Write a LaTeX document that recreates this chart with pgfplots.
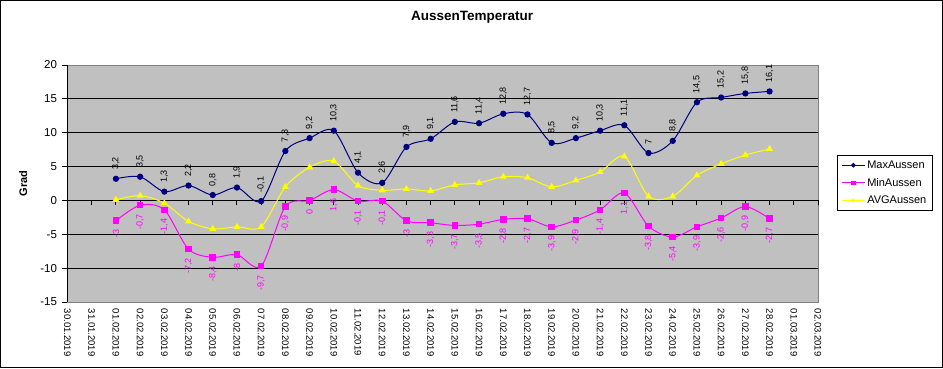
\documentclass[border=0pt]{standalone}
\usepackage{pgfplots}
\pgfplotsset{compat=1.18}
\usepackage{pgfplotstable}
\usepackage{fontspec}
\setmainfont{Liberation Sans}
\definecolor{maxc}{RGB}{0,0,128}
\definecolor{minc}{RGB}{255,0,255}
\definecolor{avgc}{RGB}{255,255,0}
\definecolor{bgc}{RGB}{192,192,192}
\definecolor{bordc}{RGB}{128,128,128}

\pgfplotstableread{
x y lab
2 3.2 3,2
3 3.5 3,5
4 1.3 1,3
5 2.2 2,2
6 0.8 0,8
7 1.9 1,9
8 -0.1 -0,1
9 7.3 7,3
10 9.2 9,2
11 10.3 10,3
12 4.1 4,1
13 2.6 2,6
14 7.9 7,9
15 9.1 9,1
16 11.6 11,6
17 11.4 11,4
18 12.8 12,8
19 12.7 12,7
20 8.5 8,5
21 9.2 9,2
22 10.3 10,3
23 11.1 11,1
24 7 7
25 8.8 8,8
26 14.5 14,5
27 15.2 15,2
28 15.8 15,8
29 16.1 16,1
}\maxtab

\pgfplotstableread{
x y lab
2 -3 -3
3 -0.7 -0,7
4 -1.4 -1,4
5 -7.2 -7,2
6 -8.4 -8,4
7 -8 -8
8 -9.7 -9,7
9 -0.9 -0,9
10 0 0
11 1.6 1,6
12 -0.1 -0,1
13 -0.1 -0,1
14 -3 -3
15 -3.3 -3,3
16 -3.7 -3,7
17 -3.5 -3,5
18 -2.8 -2,8
19 -2.7 -2,7
20 -3.9 -3,9
21 -2.9 -2,9
22 -1.4 -1,4
23 1.1 1,1
24 -3.8 -3,8
25 -5.4 -5,4
26 -3.9 -3,9
27 -2.6 -2,6
28 -0.9 -0,9
29 -2.7 -2,7
}\mintab

\pgfplotstableread{
x y
2 0.1
3 0.7
4 -0.4
5 -3.1
6 -4.2
7 -3.9
8 -3.9
9 2.0
10 4.9
11 5.8
12 2.2
13 1.5
14 1.7
15 1.4
16 2.3
17 2.6
18 3.5
19 3.35
20 2.0
21 2.95
22 4.2
23 6.5
24 0.6
25 0.6
26 3.7
27 5.4
28 6.7
29 7.6
}\avgtab

\begin{document}
\begin{tikzpicture}
\useasboundingbox (0,0) rectangle (943pt,368pt);
\draw[line width=1pt] (0.5pt,0.5pt) rectangle (942.5pt,367.5pt);
\begin{axis}[
  at={(67.5pt,66pt)}, anchor=south west,
  scale only axis, width=750.5pt, height=237pt,
  xmin=0, xmax=31, ymin=-15, ymax=20,
  axis x line=middle, axis y line=left,
  axis line style={-, line width=1pt, black},
  hide obscured x ticks=false, hide obscured y ticks=false,
  xtick={0,...,31},
  xticklabels={30.01.2019,31.01.2019,01.02.2019,02.02.2019,03.02.2019,04.02.2019,05.02.2019,06.02.2019,07.02.2019,08.02.2019,09.02.2019,10.02.2019,11.02.2019,12.02.2019,13.02.2019,14.02.2019,15.02.2019,16.02.2019,17.02.2019,18.02.2019,19.02.2019,20.02.2019,21.02.2019,22.02.2019,23.02.2019,24.02.2019,25.02.2019,26.02.2019,27.02.2019,28.02.2019,01.03.2019,02.03.2019},
  xticklabel shift=100pt,
  xticklabel style={rotate=-90, anchor=west, font=\fontsize{9.5}{11}\selectfont},
  ytick={-15,-10,...,20},
  yticklabels={-15,-10,-5,0,5,10,15,20},
  yticklabel style={font=\fontsize{11.5}{13}\selectfont, xshift=-2pt},
  tick align=outside,
  major tick length=5pt,
  tick style={black, line width=1pt},
  extra y ticks={-10,-5,5,10,15},
  extra y tick labels={},
  extra y tick style={grid=major, major grid style={black, line width=1pt}, tick style={draw=none}},
  axis background/.style={fill=bgc, draw=bordc, line width=1pt},
  title={AussenTemperatur},
  title style={at={(axis description cs:0.539,1.175)}, anchor=center, font=\bfseries\fontsize{13.5}{15}\selectfont},
  ylabel={Grad},
  every axis y label/.style={at={(axis description cs:-0.059,0.5)}, rotate=90, anchor=center, font=\bfseries\fontsize{11}{13}\selectfont},
  legend style={at={(1.0253,0.502)}, anchor=west, draw=black, line width=1pt, fill=white,
    font=\fontsize{11}{12}\selectfont, row sep=4.5pt, inner xsep=4pt, inner ysep=3.5pt},
  legend cell align=left,
  legend image code/.code={\draw[mark repeat=2,mark phase=2,mark size=1.8pt] plot coordinates {(0cm,0cm)(0.4cm,0cm)(0.8cm,0cm)};},
]
\addplot[maxc, line width=1pt, smooth, mark=*, mark size=2.6pt, mark options={solid, fill=maxc},
  nodes near coords, point meta=explicit symbolic,
  every node near coord/.append style={rotate=90, anchor=west, font=\fontsize{9}{10}\selectfont, text=black, inner sep=1pt, outer xsep=8pt}]
  table[x=x, y=y, meta=lab] {\maxtab};
\addlegendentry{MaxAussen}
\addplot[minc, line width=1pt, smooth, mark=square*, mark size=2.8pt, mark options={solid, fill=minc},
  nodes near coords, point meta=explicit symbolic,
  every node near coord/.append style={rotate=90, anchor=east, font=\fontsize{9}{10}\selectfont, text=minc, inner sep=1pt, outer xsep=8pt}]
  table[x=x, y=y, meta=lab] {\mintab};
\addlegendentry{MinAussen}
\addplot[avgc, line width=1pt, smooth, mark=triangle*, mark size=3pt, mark options={solid, fill=avgc}]
  table[x=x, y=y] {\avgtab};
\addlegendentry{AVGAussen}
\end{axis}
\end{tikzpicture}
\end{document}
